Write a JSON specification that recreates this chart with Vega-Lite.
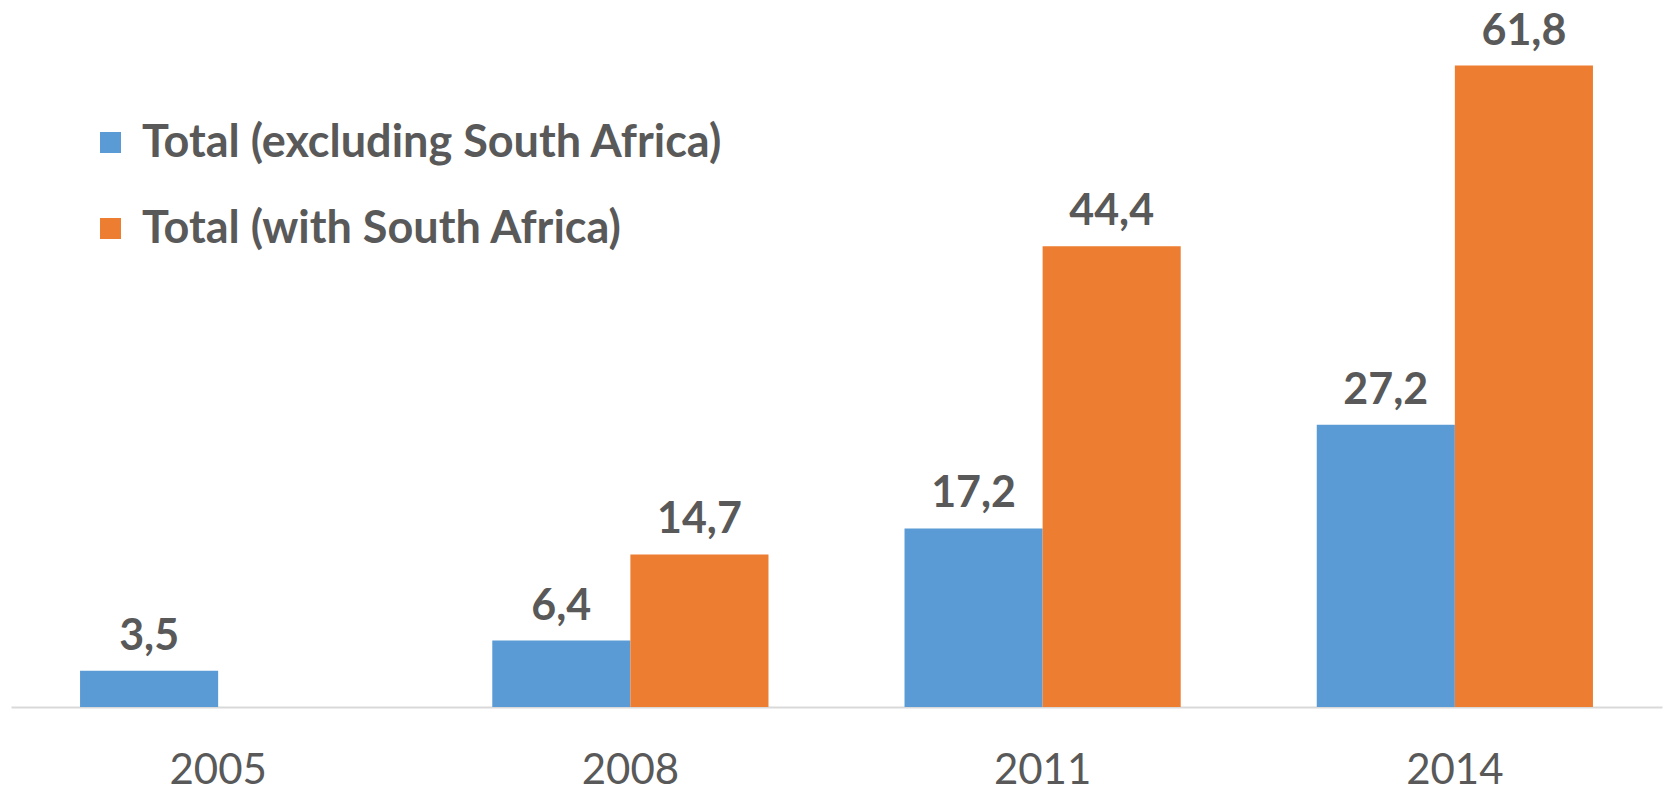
{
  "$schema": "https://vega.github.io/schema/vega-lite/v6.json",
  "autosize": {"type": "none"},
  "padding": {"left": 11, "top": 22, "right": 6, "bottom": 84},
  "width": 1651,
  "height": 685,
  "background": "white",
  "config": {
    "view": {"stroke": null},
    "locale": {"number": {"decimal": ",", "thousands": ".", "grouping": [3], "currency": ["", "€"]}},
    "font": "Lato"
  },
  "data": {
    "values": [
      {"year": "2005", "series": "Total (excluding South Africa)", "value": 3.5},
      {"year": "2008", "series": "Total (excluding South Africa)", "value": 6.4},
      {"year": "2008", "series": "Total (with South Africa)", "value": 14.7},
      {"year": "2011", "series": "Total (excluding South Africa)", "value": 17.2},
      {"year": "2011", "series": "Total (with South Africa)", "value": 44.4},
      {"year": "2014", "series": "Total (excluding South Africa)", "value": 27.2},
      {"year": "2014", "series": "Total (with South Africa)", "value": 61.8}
    ]
  },
  "encoding": {
    "x": {
      "field": "year", "type": "nominal",
      "scale": {"paddingInner": 0.33, "paddingOuter": 0.1675},
      "axis": {
        "title": null, "labelAngle": 0, "ticks": false, "domainColor": "#D9D9D9", "domainWidth": 2,
        "labelFont": "Lato", "labelFontSize": 42, "labelColor": "#595959",
        "labelBaseline": "alphabetic", "labelPadding": 76
      }
    },
    "xOffset": {"field": "series", "type": "nominal", "scale": {"domain": ["Total (excluding South Africa)", "Total (with South Africa)"], "paddingInner": 0}},
    "y": {"field": "value", "type": "quantitative", "scale": {"domain": [0, 66]}, "axis": null}
  },
  "layer": [
    {
      "mark": {"type": "bar"},
      "encoding": {
        "color": {
          "field": "series", "type": "nominal",
          "scale": {"domain": ["Total (excluding South Africa)", "Total (with South Africa)"], "range": ["#5B9BD5", "#ED7D31"]},
          "legend": {
            "title": null, "orient": "none", "legendX": 77, "legendY": 98,
            "symbolType": "square", "symbolSize": 441, "symbolStrokeWidth": 0,
            "labelFont": "Lato", "labelFontSize": 45, "labelFontWeight": "bold", "labelColor": "#595959",
            "labelOffset": 9, "rowPadding": 40, "labelLimit": 1000
          }
        }
      }
    },
    {
      "mark": {"type": "text", "baseline": "alphabetic", "dy": -21, "font": "Lato", "fontSize": 43, "fontWeight": "bold", "color": "#595959"},
      "encoding": {
        "text": {"field": "value", "type": "quantitative", "format": ".1f"}
      }
    }
  ]
}
